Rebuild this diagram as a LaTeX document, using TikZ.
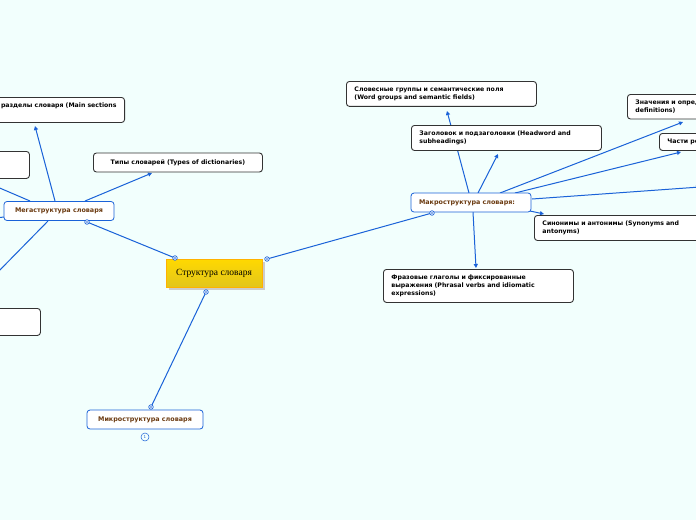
\documentclass[tikz,border=0pt]{standalone}
\usepackage{fontspec}
\setmainfont{DejaVu Sans}
\newfontfamily\serifcap{Liberation Serif}
\usetikzlibrary{arrows.meta}
\definecolor{bg}{HTML}{F2FFFD}
\definecolor{ln}{HTML}{1A62D8}
\definecolor{brn}{HTML}{6B3A10}
\tikzset{
 x=1pt,y=-1pt,
 topic/.style={draw=black!80,line width=0.9pt,rounded corners=3pt,fill=white,font=\bfseries\fontsize{6.2}{8}\selectfont,align=left,anchor=north west,inner xsep=8pt,inner ysep=5.5pt},
 sub/.style={draw=ln,line width=0.8pt,rounded corners=3pt,fill=white,font=\bfseries\fontsize{6.4}{8}\selectfont,text=brn,inner sep=0pt},
 con/.style={ln,line width=1pt},
 arr/.style={con,-{Triangle[length=4pt,width=4pt]}},
 dot/.style={circle,draw=ln,fill=white,line width=0.7pt,inner sep=0pt,minimum size=4.5pt,path picture={\fill[ln] (path picture bounding box.center) circle (0.8pt);}},
}
\begin{document}
\begin{tikzpicture}
\useasboundingbox (0,0) rectangle (696,520);
\fill[bg] (0,0) rectangle (696,520);
\clip (0,0) rectangle (696,520);
\coordinate (cL) at (175,258); \coordinate (cR) at (267,259); \coordinate (cB) at (206,292);
\coordinate (mg) at (87,222); \coordinate (ma) at (432,213); \coordinate (mi) at (151,407);
\draw[con] (cL) -- (mg);
\draw[con] (cR) -- (ma);
\draw[con] (cB) -- (mi);
\draw[arr] (55,201) -- (35,126);
\draw[arr] (85,201) -- (152,173);
\draw[con] (30,201) -- (-5,186);
\draw[con] (48,221) -- (-5,275);
\draw[con] (4,217) -- (-5,218);
\draw[arr] (469,193) -- (447,111);
\draw[arr] (478,193) -- (498,154);
\draw[arr] (500,193) -- (683,122);
\draw[arr] (515,193) -- (681,152);
\draw[arr] (532,199) -- (700,187);
\draw[arr] (530,211) -- (544,214);
\draw[arr] (473,212) -- (476,268);
% central
\fill[black!20] (169,262) rectangle (265,290);
\shade[top color=orange!30!yellow,bottom color=yellow!55!brown,draw=orange!60!yellow] (166,259) rectangle (262,287);
\node[font=\serifcap\fontsize{9.5}{11}\selectfont] (root) at (214,273) {Структура  словаря};
\node[sub,minimum width=110pt,minimum height=19pt] (mega) at (59,211) {Мегаструктура словаря};
\node[sub,minimum width=120pt,minimum height=19pt,text width=104pt,align=left] (macro) at (471,202.5) {Макроструктура словаря:};
\node[sub,minimum width=116pt,minimum height=19pt] (micro) at (145,419.5) {Микроструктура словаря};
\node[circle,draw=ln,line width=0.5pt,inner sep=0pt,minimum size=8pt,font=\fontsize{4}{4}\selectfont,text=ln] (cnt) at (145,437) {1};
% topics
\node[topic,text width=200pt,anchor=north east] (main) at (125,97) {\hfill Основные разделы словаря (Main sections\\ of a dictionary)\hspace*{72pt}\hbox{}};
\node[topic,minimum width=60pt,minimum height=27pt] (b1) at (-31,151) {};
\node[topic,minimum width=169pt,minimum height=19pt,anchor=west] (types) at (93,162.5) {Типы словарей (Types of dictionaries)};
\node[topic,minimum width=70pt,minimum height=27pt] (b2) at (-30,308) {};
\node[topic,text width=174pt] (wg) at (346,81) {Словесные группы и семантические поля\\(Word groups and semantic fields)};
\node[topic,text width=174pt] (hw) at (411,125) {Заголовок и подзаголовки (Headword and\\subheadings)};
\node[topic,text width=170pt] (mean) at (627,94) {Значения и определения (Meanings and\\definitions)};
\node[topic,text width=150pt,inner ysep=5.5pt] (pos) at (659,133) {Части речи (Parts of speech)};
\node[topic,text width=174pt] (syn) at (534,215) {Синонимы и антонимы (Synonyms and\\antonyms)};
\node[topic,text width=174pt] (phr) at (383,269) {Фразовые глаголы и фиксированные\\выражения (Phrasal verbs and idiomatic\\expressions)};
\node[dot] at (cL) {}; \node[dot] at (cR) {}; \node[dot] at (cB) {};
\node[dot] at (mg) {}; \node[dot] at (ma) {}; \node[dot] at (mi) {};
\end{tikzpicture}
\end{document}
